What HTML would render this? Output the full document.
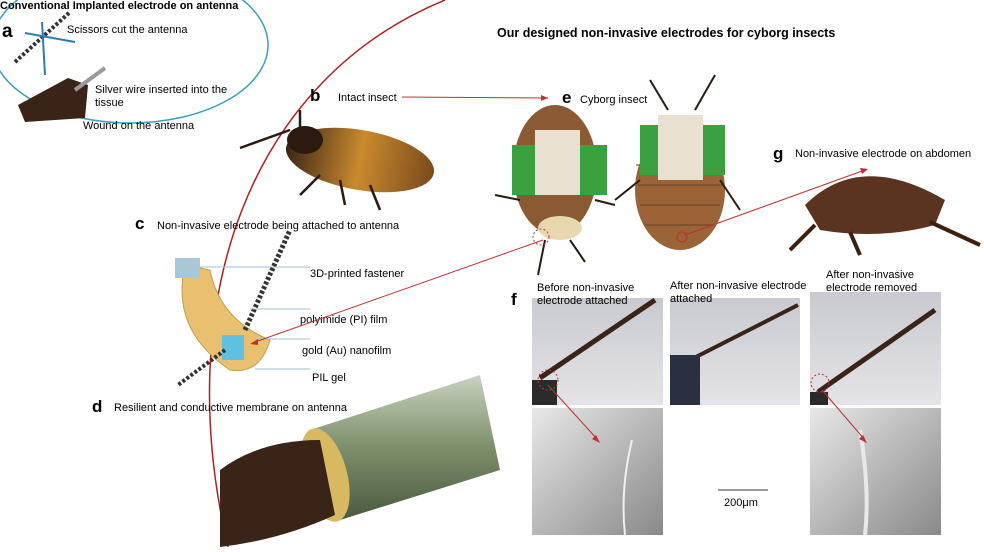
<!DOCTYPE html>
<html><head><meta charset="utf-8"><style>
body{margin:0;width:984px;height:547px;overflow:hidden;background:#fff;font-family:"Liberation Sans",sans-serif}
svg text{font-family:"Liberation Sans",sans-serif}
</style></head><body>
<svg width="984" height="547" viewBox="0 0 984 547" xmlns="http://www.w3.org/2000/svg">
<defs>
<linearGradient id="bug" x1="0" x2="1"><stop offset="0" stop-color="#3a2414"/><stop offset="0.5" stop-color="#c98a2e"/><stop offset="1" stop-color="#7a4a1c"/></linearGradient>
<linearGradient id="tube" x1="0" y1="0" x2="0" y2="1"><stop offset="0" stop-color="#c8d2c0"/><stop offset="0.5" stop-color="#7d8f6a"/><stop offset="1" stop-color="#4a5a40"/></linearGradient>
<linearGradient id="photo" x1="0" y1="0" x2="0" y2="1"><stop offset="0" stop-color="#c9cad0"/><stop offset="1" stop-color="#e4e4e8"/></linearGradient>
<linearGradient id="sem" x1="0" y1="0" x2="1" y2="1"><stop offset="0" stop-color="#e8e8e8"/><stop offset="0.5" stop-color="#b8b8b8"/><stop offset="1" stop-color="#8a8a8a"/></linearGradient>
</defs>
<ellipse cx="130" cy="45" rx="138" ry="78" fill="none" stroke="#3a9ec0" stroke-width="1.5"/>
<path d="M445 0 C250 80 170 300 228 547" fill="none" stroke="#b02020" stroke-width="1.5"/>
<text x="0" y="9" font-size="11" font-weight="bold">Conventional Implanted electrode on antenna</text>
<text x="2" y="37" font-size="19" font-weight="bold">a</text>
<path d="M15 62 L70 12" stroke="#333" stroke-width="4" stroke-dasharray="3 2"/>
<path d="M25 33 L75 42 M42 22 L45 75" stroke="#2a7fb0" stroke-width="2"/>
<text x="67" y="33" font-size="11">Scissors cut the antenna</text>
<polygon points="18,105 68,78 88,85 85,118 25,122" fill="#3a2418"/>
<path d="M75 90 L105 68" stroke="#999" stroke-width="4"/>
<text x="95" y="93" font-size="11">Silver wire inserted into the</text>
<text x="95" y="106" font-size="11">tissue</text>
<text x="83" y="129" font-size="11">Wound on the antenna</text>
<text x="310" y="101" font-size="17" font-weight="bold">b</text>
<text x="338" y="101" font-size="11">Intact insect</text>
<path d="M402 97 L548 98" stroke="#c03030" stroke-width="1"/>
<polygon points="548,98 541,95 541,101" fill="#c03030"/>
<ellipse cx="360" cy="160" rx="75" ry="30" fill="url(#bug)" transform="rotate(10 360 160)"/>
<ellipse cx="305" cy="140" rx="18" ry="14" fill="#2a1a10"/>
<path d="M290 130 L240 148 M300 128 L300 110 M320 175 L300 195 M340 180 L345 205 M370 185 L380 210" stroke="#2a1a10" stroke-width="2.5"/>
<text x="497" y="37" font-size="12.5" font-weight="bold">Our designed non-invasive electrodes for cyborg insects</text>
<text x="562" y="103" font-size="17" font-weight="bold">e</text>
<text x="580" y="103" font-size="11">Cyborg insect</text>
<ellipse cx="555" cy="170" rx="42" ry="65" fill="#8a5a32"/>
<rect x="512" y="145" width="95" height="50" fill="#3aa040"/>
<rect x="535" y="130" width="45" height="65" fill="#e8e0d0"/>
<ellipse cx="560" cy="228" rx="22" ry="12" fill="#e8d8b0"/>
<path d="M545 240 L538 275 M570 240 L585 262 M520 200 L495 195 M595 200 L615 205" stroke="#2a1a10" stroke-width="2"/>
<circle cx="541" cy="237" r="8" fill="none" stroke="#c03030" stroke-dasharray="2 2"/>
<ellipse cx="680" cy="190" rx="45" ry="60" fill="#9a6438"/>
<path d="M636 165 L720 165 M638 185 L722 185 M640 205 L720 205 M645 225 L715 225" stroke="#6a4020" stroke-width="1"/>
<rect x="640" y="125" width="85" height="50" fill="#3aa040"/>
<rect x="658" y="115" width="45" height="65" fill="#e8e0d0"/>
<path d="M668 110 L650 80 M695 110 L715 75 M640 180 L615 200 M720 180 L740 210" stroke="#2a1a10" stroke-width="2"/>
<circle cx="682" cy="237" r="5" fill="none" stroke="#c03030"/>
<text x="773" y="159" font-size="17" font-weight="bold">g</text>
<text x="795" y="157" font-size="11">Non-invasive electrode on abdomen</text>
<path d="M685 235 L865 170" stroke="#c03030" stroke-width="1"/>
<polygon points="868,169 860,168 862,174" fill="#c03030"/>
<path d="M805 205 Q860 150 945 200 L935 225 Q880 240 820 230 Z" fill="#5a3420"/>
<path d="M815 225 L790 250 M850 232 L860 255 M930 222 L980 245" stroke="#3a2010" stroke-width="4"/>
<text x="135" y="229" font-size="17" font-weight="bold">c</text>
<text x="157" y="229" font-size="11">Non-invasive electrode being attached to antenna</text>
<path d="M185 265 Q170 330 230 370 Q260 375 270 340 Q220 320 210 270 Z" fill="#e8c070" stroke="#c0a050"/>
<rect x="175" y="258" width="25" height="20" fill="#a8c8d8"/>
<rect x="222" y="335" width="22" height="25" fill="#60c0e0"/>
<path d="M245 330 L290 230" stroke="#333" stroke-width="5" stroke-dasharray="3 2"/>
<path d="M225 350 L178 385" stroke="#333" stroke-width="4" stroke-dasharray="3 2"/>
<g stroke="#a0c0d0" stroke-width="1"><line x1="200" y1="267" x2="310" y2="267"/><line x1="250" y1="309" x2="310" y2="309"/><line x1="255" y1="339" x2="310" y2="339"/><line x1="255" y1="369" x2="310" y2="369"/></g>
<text x="310" y="277" font-size="11">3D-printed fastener</text>
<text x="300" y="323" font-size="11">polyimide (PI) film</text>
<text x="302" y="354" font-size="11">gold (Au) nanofilm</text>
<text x="312" y="381" font-size="11">PIL gel</text>
<path d="M543 240 L255 342" stroke="#c03030" stroke-width="1"/>
<polygon points="250,344 258,339 258,345" fill="#c03030"/>
<text x="92" y="412" font-size="17" font-weight="bold">d</text>
<text x="114" y="411" font-size="11">Resilient and conductive membrane on antenna</text>
<polygon points="310,430 480,375 500,470 340,520" fill="url(#tube)"/>
<ellipse cx="325" cy="475" rx="22" ry="48" fill="#d8b860" transform="rotate(-15 325 475)"/>
<path d="M220 470 Q260 440 320 440 L335 515 Q280 540 220 547 Z" fill="#3a2418"/>
<rect x="532" y="298" width="131" height="107" fill="url(#photo)"/>
<path d="M540 378 L655 300" stroke="#3a2418" stroke-width="5"/>
<rect x="532" y="380" width="25" height="25" fill="#2a2a2a"/>
<rect x="670" y="298" width="130" height="107" fill="url(#photo)"/>
<path d="M690 360 L798 305" stroke="#3a2418" stroke-width="4"/>
<rect x="670" y="355" width="30" height="50" fill="#2a3040"/>
<rect x="810" y="292" width="131" height="113" fill="url(#photo)"/>
<path d="M818 392 L935 310" stroke="#3a2418" stroke-width="5"/>
<rect x="810" y="392" width="18" height="13" fill="#2a2a2a"/>
<circle cx="548" cy="380" r="10" fill="none" stroke="#c03030" stroke-dasharray="2 2"/>
<circle cx="820" cy="383" r="9" fill="none" stroke="#c03030" stroke-dasharray="2 2"/>
<rect x="532" y="408" width="131" height="127" fill="url(#sem)"/>
<path d="M632 440 Q620 490 625 535" stroke="#f0f0f0" stroke-width="2" fill="none"/>
<rect x="810" y="408" width="131" height="127" fill="url(#sem)"/>
<path d="M860 430 Q870 490 865 535" stroke="#e8e8e8" stroke-width="4" fill="none"/>
<path d="M548 385 L598 440" stroke="#c03030"/><polygon points="600,443 592,439 596,435" fill="#c03030"/>
<path d="M822 390 L865 440" stroke="#c03030"/><polygon points="867,443 859,439 863,435" fill="#c03030"/>
<line x1="718" y1="490" x2="768" y2="490" stroke="#333"/>
<text x="724" y="506" font-size="11">200μm</text>
<text x="511" y="305" font-size="17" font-weight="bold">f</text>
<text x="537" y="291" font-size="11">Before non-invasive</text>
<text x="537" y="304" font-size="11">electrode attached</text>
<text x="670" y="289" font-size="11">After non-invasive electrode</text>
<text x="670" y="302" font-size="11">attached</text>
<text x="826" y="278" font-size="11">After non-invasive</text>
<text x="826" y="291" font-size="11">electrode removed</text>
</svg>
</body></html>
